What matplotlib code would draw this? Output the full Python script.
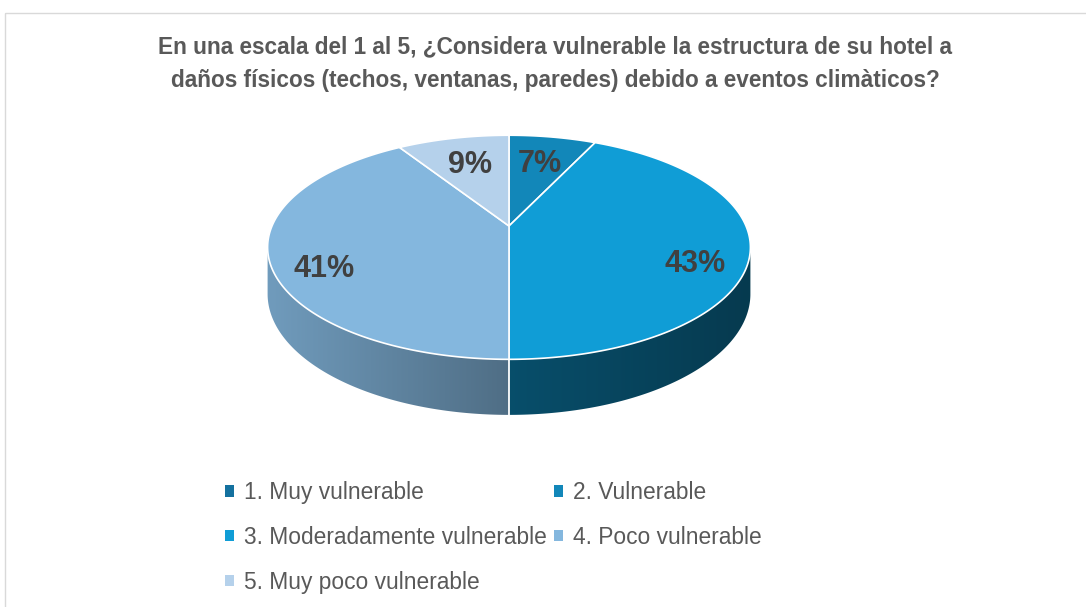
import numpy as np
import matplotlib
matplotlib.use("Agg")
import matplotlib.pyplot as plt
from matplotlib.patches import Polygon, Rectangle, Patch
from matplotlib.colors import to_rgb

plt.rcParams["font.family"] = ["Liberation Sans", "DejaVu Sans"]

# data
categories = ["1. Muy vulnerable", "2. Vulnerable", "3. Moderadamente vulnerable",
              "4. Poco vulnerable", "5. Muy poco vulnerable"]
values = [0, 7, 43, 41, 9]
colors = ["#14719F", "#1287B9", "#109DD6", "#84B7DE", "#B5D1EB"]
title_lines = ["En una escala del 1 al 5, ¿Considera vulnerable la estructura de su hotel a",
               "daños físicos (techos, ventanas, paredes) debido a eventos climàticos?"]

# 3d pie geometry (pixels)
cx, cy = 509, 226
A, B = 237, 108
k = 0.19
H = 45


def proj(theta, r=1.0, d=0.0):
    u = r * np.sin(theta)
    v = r * np.cos(theta)
    s = 1 + k * v
    return cx + A * u / s, cy + (-B * v + H * d) / s


def shade_factor(u):
    # light comes from the left, right side gets dark quickly
    return np.where(u <= 0, 0.6 - 0.25 * u, 0.5 - 0.13 * u)


fig = plt.figure(figsize=(10.86, 6.07), dpi=100)
ax = fig.add_axes([0, 0, 1, 1])
ax.set_xlim(0, 1086)
ax.set_ylim(607, 0)
ax.axis("off")

ax.add_patch(Rectangle((4.5, 12.5), 1200, 700, fill=False, edgecolor="#D9D9D9", lw=1))

total = sum(values)
fracs = np.array(values) / total
bounds = np.concatenate([[0], np.cumsum(fracs)]) * 2 * np.pi

# visible part of the side: between the two silhouette points
vis0 = np.arccos(-k)
vis1 = 2 * np.pi - vis0

xs = np.linspace(cx - A * 1.02, cx + A * 1.02, 600)
ug = np.clip((xs - cx) / (A * 1.02), -1, 1)

for i, col in enumerate(colors):
    t0, t1 = max(bounds[i], vis0), min(bounds[i + 1], vis1)
    if t1 <= t0:
        continue
    ts = np.linspace(t0, t1, 200)
    top = [proj(t) for t in ts]
    bot = [proj(t, d=1) for t in ts[::-1]]
    side = Polygon(top + bot, closed=True, facecolor="none", edgecolor="none")
    ax.add_patch(side)
    grad = np.array(to_rgb(col))[None, None, :] * shade_factor(ug)[None, :, None]
    im = ax.imshow(np.clip(grad, 0, 1), extent=(xs[0], xs[-1], 420, 220),
                   aspect="auto", interpolation="bilinear", zorder=1)
    im.set_clip_path(side)

# white lines at slice boundaries on the side
for t in bounds[1:-1]:
    if vis0 < t < vis1:
        x0, y0 = proj(t)
        x1, y1 = proj(t, d=1)
        ax.plot([x0, x1], [y0, y1], color="white", lw=1.3, zorder=2)

# top faces
for i, col in enumerate(colors):
    t0, t1 = bounds[i], bounds[i + 1]
    if t1 - t0 <= 0:
        continue
    ts = np.linspace(t0, t1, 200)
    pts = [proj(0, r=0)] + [proj(t) for t in ts]
    ax.add_patch(Polygon(pts, closed=True, facecolor=col, edgecolor="white",
                         lw=1.2, zorder=3))

# data labels
for i, val in enumerate(values):
    if val == 0:
        continue
    mid = (bounds[i] + bounds[i + 1]) / 2
    if fracs[i] < 0.1:
        x, y = proj(mid, r=0.66)
    else:
        x, y = proj(mid, r=0.78, d=0.4)
    ax.text(x, y, f"{val}%", ha="center", va="center", fontsize=22,
            fontweight="bold", color="#404040", zorder=4)

for j, line in enumerate(title_lines):
    ax.text(555, 47 + 33 * j, line, ha="center", va="center", fontsize=16.3,
            fontweight="bold", color="#595959")

# legend, filled row by row like the original
handles = [Patch(facecolor=c, edgecolor="none") for c in colors]
order = [0, 2, 4, 1, 3]
leg = ax.legend([handles[j] for j in order], [categories[j] for j in order],
                ncol=2, loc="upper left", bbox_to_anchor=(225, 481),
                bbox_transform=ax.transData, frameon=False, fontsize=16.4,
                handlelength=0.4, handleheight=0.4, handletextpad=0.45,
                labelspacing=0.96, columnspacing=0.3, borderpad=0, borderaxespad=0)
for t in leg.get_texts():
    t.set_color("#595959")

fig.savefig("out.png", dpi=100)
